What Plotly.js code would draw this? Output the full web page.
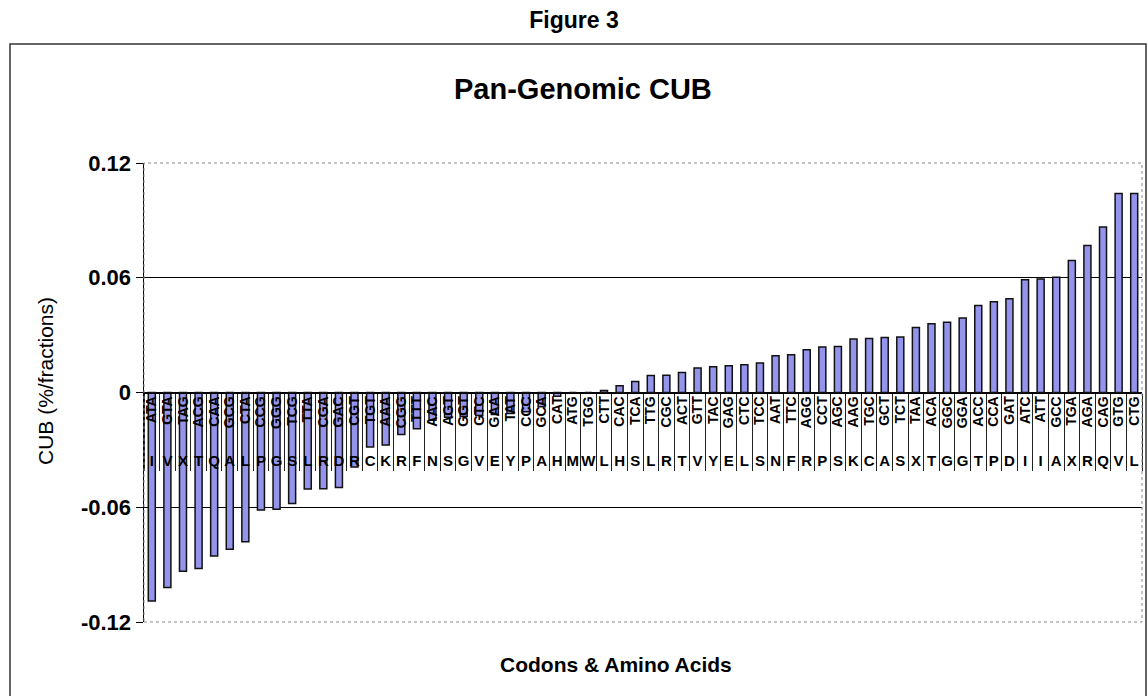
<!DOCTYPE html>
<html><head><meta charset="utf-8">
<script src="https://cdn.plot.ly/plotly-3.0.1.min.js"></script>
<style>html,body{margin:0;padding:0;background:#fff}#chart{width:1148px;height:696px}</style>
</head><body><div id="chart"></div>
<script>
const codons = ['ATA','GTA','TAG','ACG','CAA','GCG','CTA','CCG','GGG','TCG','TTA','CGA','GAC','CGT','TGT','AAA',
  'CGG','TTT','AAC','AGT','GGT','GTC','GAA','TAT','CCC','GCA','CAT','ATG','TGG','CTT','CAC','TCA',
  'TTG','CGC','ACT','GTT','TAC','GAG','CTC','TCC','AAT','TTC','AGG','CCT','AGC','AAG','TGC','GCT',
  'TCT','TAA','ACA','GGC','GGA','ACC','CCA','GAT','ATC','ATT','GCC','TGA','AGA','CAG','GTG','CTG'];
const aminoAcids = ['I','V','X','T','Q','A','L','P','G','S','L','R','D','R','C','K',
  'R','F','N','S','G','V','E','Y','P','A','H','M','W','L','H','S',
  'L','R','T','V','Y','E','L','S','N','F','R','P','S','K','C','A',
  'S','X','T','G','G','T','P','D','I','I','A','X','R','Q','V','L'];
const cub = [-0.109,-0.102,-0.0935,-0.092,-0.0855,-0.082,-0.078,-0.0615,-0.061,-0.058,-0.0505,-0.0503,-0.0497,-0.039,-0.0285,-0.0275,
  -0.022,-0.019,-0.0145,-0.013,-0.0125,-0.012,-0.0115,-0.011,-0.010,-0.0075,-0.002,0,0,0.001,0.0035,0.0057,
  0.0089,0.009,0.0105,0.0128,0.0134,0.014,0.0145,0.0154,0.0192,0.0198,0.0224,0.0238,0.024,0.028,0.0282,0.0287,
  0.029,0.034,0.036,0.0367,0.039,0.0455,0.0475,0.049,0.059,0.0594,0.0603,0.069,0.0769,0.0866,0.104,0.104];
const yTickVals = [-0.12,-0.06,0,0.06,0.12];
const yTickText = ['-0.12','-0.06','0','0.06','0.12'];

const FONT = 'Liberation Sans, Arial, sans-serif';
const W = 1148, H = 696, L = 144, R = 6, T = 163, B = 74;
const pw = W - L - R, ph = H - T - B;
const px = x => (x - L) / pw;
const py = y => (H - B - y) / ph;

const traces = [
  {type:'bar', x: codons, y: cub, xaxis:'x', yaxis:'y',
   marker:{color:'#9494ec', line:{color:'#111', width:1.5}}, hoverinfo:'x+y', showlegend:false},
  {type:'scatter', mode:'markers', x: codons, y: cub, xaxis:'x2', yaxis:'y',
   marker:{opacity:0}, hoverinfo:'skip', showlegend:false},
  {type:'scatter', mode:'markers', x: codons, y: cub, xaxis:'x3', yaxis:'y',
   marker:{opacity:0}, hoverinfo:'skip', showlegend:false}
];

const catAxis = {type:'category', categoryorder:'array', categoryarray: codons,
  range:[-0.5, codons.length - 0.5], anchor:'free', position:0.5, showgrid:false, zeroline:false, fixedrange:true};

const layout = {
  width: W, height: H,
  margin:{l:L, r:R, t:T, b:B, pad:0},
  paper_bgcolor:'#fff', plot_bgcolor:'#fff',
  bargap:0.55,
  showlegend:false,
  title:{text:'Figure 3', x:0.5, xanchor:'center', y:1 - 20/H, yanchor:'middle',
    font:{family:FONT, size:23, color:'#000', weight:'bold'}},
  xaxis: Object.assign({}, catAxis, {showline:true, linecolor:'#000', linewidth:1.5,
    ticks:'outside', tickson:'boundaries', ticklen:77, tickwidth:1, tickcolor:'#222',
    showticklabels:false}),
  xaxis2: Object.assign({}, catAxis, {overlaying:'x', showline:false, ticks:'',
    tickmode:'array', tickvals: codons, ticktext: codons, tickangle:-90,
    tickfont:{family:FONT, size:14, color:'#000', weight:'bold'}}),
  xaxis3: Object.assign({}, catAxis, {overlaying:'x', showline:false, ticks:'',
    tickmode:'array', tickvals: codons, ticktext: aminoAcids, tickangle:0, ticklabelstandoff:57,
    tickfont:{family:FONT, size:15, color:'#000', weight:'bold'}}),
  yaxis:{range:[-0.12, 0.12], tickmode:'array', tickvals: yTickVals, ticktext: yTickText,
    ticks:'outside', ticklen:7, tickcolor:'#000', tickwidth:1,
    showline:true, linecolor:'#000', linewidth:1.5, showgrid:true, gridcolor:'#000', gridwidth:1,
    zeroline:false, fixedrange:true,
    tickfont:{family:FONT, size:22, color:'#000', weight:'bold'}},
  shapes:[
    {type:'line', xref:'paper', yref:'paper', x0:0.002, x1:1, y0:1, y1:1, layer:'above', line:{color:'#fff', width:2}},
    {type:'line', xref:'paper', yref:'paper', x0:0.002, x1:1, y0:0, y1:0, layer:'above', line:{color:'#fff', width:2}},
    {type:'rect', xref:'paper', yref:'paper', x0:0, x1:1, y0:0, y1:1, layer:'above',
      line:{color:'#888', width:1, dash:'dot'}},
    {type:'rect', xref:'paper', yref:'paper', x0:px(10), x1:px(1146), y0:py(705), y1:py(44), layer:'above',
      line:{color:'#333', width:1.5}}
  ],
  annotations:[
    {text:'Pan-Genomic CUB', xref:'paper', yref:'paper', x:px(583), y:py(89), xanchor:'center', yanchor:'middle',
      showarrow:false, font:{family:FONT, size:29, color:'#000', weight:'bold'}},
    {text:'Codons & Amino Acids', xref:'paper', yref:'paper', x:px(616), y:py(664), xanchor:'center', yanchor:'middle',
      showarrow:false, font:{family:FONT, size:21, color:'#000', weight:'bold'}},
    {text:'CUB (%/fractions)', xref:'paper', yref:'paper', x:px(45), y:py(381), xanchor:'center', yanchor:'middle',
      textangle:-90, showarrow:false, font:{family:FONT, size:21, color:'#000'}}
  ]
};

Plotly.newPlot('chart', traces, layout, {displayModeBar:false, staticPlot:true});
</script>
</body></html>
